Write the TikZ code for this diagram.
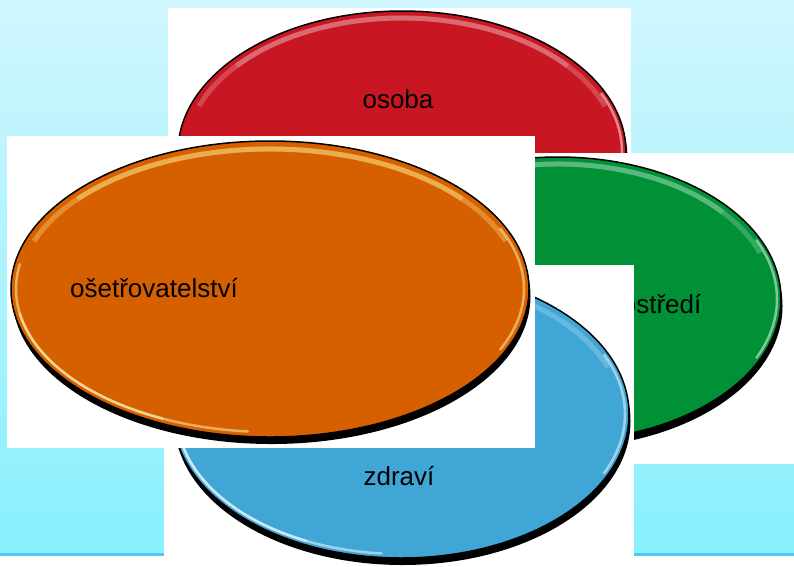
\documentclass[tikz,border=0pt]{standalone}
\usepackage{fontspec}
\setmainfont{Liberation Sans}
\usetikzlibrary{shapes.geometric}

\definecolor{bgtop}{RGB}{208,246,254}
\definecolor{bgbot}{RGB}{136,240,254}
\definecolor{bgline}{RGB}{80,200,245}
\definecolor{osobared}{RGB}{200,22,35}
\definecolor{prostredigreen}{RGB}{0,145,55}
\definecolor{zdraviblue}{RGB}{64,166,214}
\definecolor{osetrorange}{RGB}{214,96,0}

\begin{document}
\begin{tikzpicture}[x=1pt,y=-1pt,
	oval/.style={ellipse,draw=black,line width=1.5pt,inner sep=0pt},
	ovalshadow/.style={fill=black},
	caption/.style={font=\fontsize{26}{30}\selectfont,text=black,anchor=base},
	photo/.style={fill=white},
	gloss/.style={line width=5pt,opacity=0.3},
	rim/.style={line width=2.5pt,line cap=round,opacity=0.5}]
	
	\useasboundingbox[fill=white] (0,0) rectangle (794,566);
	\shade[top color=bgtop,bottom color=bgbot] (0,0) rectangle (794,553);
	\fill[bgline] (0,553) rectangle (794,555.5);
	
	% osoba
	\fill[photo] (168,8) rectangle (631,300);
	\fill[ovalshadow] (403.5,159) ellipse[x radius=224,y radius=141];
	\node[oval,fill=osobared,minimum width=448pt,minimum height=282pt] (osoba) at (402,152) {};
	\begin{scope}[shift={(osoba.center)}]
		\draw[gloss,osobared!30!white] (-160:216 and 134) arc[start angle=-160,end angle=-20,x radius=216,y radius=134];
		\draw[gloss,osobared!30!white] (-140:216 and 134) arc[start angle=-140,end angle=-40,x radius=216,y radius=134];
		\draw[rim,white] (-25:220 and 138) arc[start angle=-25,end angle=25,x radius=220,y radius=138];
	\end{scope}
	\node[caption] (osobatext) at (398,108) {osoba};
	
	% prostredi
	\fill[photo] (325,153) rectangle (794,464);
	\fill[ovalshadow] (559.5,306) ellipse[x radius=223,y radius=142];
	\node[oval,fill=prostredigreen,minimum width=446pt,minimum height=284pt] (prostredi) at (558,299) {};
	\begin{scope}[shift={(prostredi.center)}]
		\draw[gloss,prostredigreen!30!white] (-160:215 and 135) arc[start angle=-160,end angle=-20,x radius=215,y radius=135];
		\draw[gloss,prostredigreen!30!white] (-140:215 and 135) arc[start angle=-140,end angle=-40,x radius=215,y radius=135];
		\draw[rim,white] (-25:219 and 139) arc[start angle=-25,end angle=25,x radius=219,y radius=139];
	\end{scope}
	\node[caption] (prostreditext) at (650,313) {prostředí};
	
	% zdravi
	\fill[photo] (164,265) rectangle (634,566);
	\fill[ovalshadow] (402.5,421) ellipse[x radius=228,y radius=144];
	\node[oval,fill=zdraviblue,minimum width=456pt,minimum height=288pt] (zdravi) at (401,414) {};
	\begin{scope}[shift={(zdravi.center)}]
		\draw[gloss,zdraviblue!30!white] (-160:220 and 136) arc[start angle=-160,end angle=-20,x radius=220,y radius=136];
		\draw[rim,white] (-25:224 and 140) arc[start angle=-25,end angle=25,x radius=224,y radius=140];
		\draw[rim,white] (185:224 and 140) arc[start angle=185,end angle=95,x radius=224,y radius=140];
		\draw[rim,white] (170:224 and 140) arc[start angle=170,end angle=115,x radius=224,y radius=140];
	\end{scope}
	\node[caption] (zdravitext) at (399,485) {zdraví};
	
	% osetrovatelstvi
	\fill[photo] (7,136) rectangle (535,448);
	\fill[ovalshadow] (271.5,296) ellipse[x radius=259,y radius=148];
	\node[oval,fill=osetrorange,minimum width=518pt,minimum height=296pt] (osetr) at (270,289) {};
	\begin{scope}[shift={(osetr.center)}]
		\draw[gloss,yellow!40!white] (-160:251 and 140) arc[start angle=-160,end angle=-20,x radius=251,y radius=140];
		\draw[gloss,yellow!40!white] (-140:251 and 140) arc[start angle=-140,end angle=-40,x radius=251,y radius=140];
		\draw[rim,yellow!25!white] (-25:254 and 143) arc[start angle=-25,end angle=25,x radius=254,y radius=143];
		\draw[rim,yellow!25!white] (190:254 and 143) arc[start angle=190,end angle=95,x radius=254,y radius=143];
		\draw[rim,yellow!25!white] (170:254 and 143) arc[start angle=170,end angle=115,x radius=254,y radius=143];
	\end{scope}
	\node[caption] (osetrtext) at (154,297) {ošetřovatelství};
\end{tikzpicture}
\end{document}
